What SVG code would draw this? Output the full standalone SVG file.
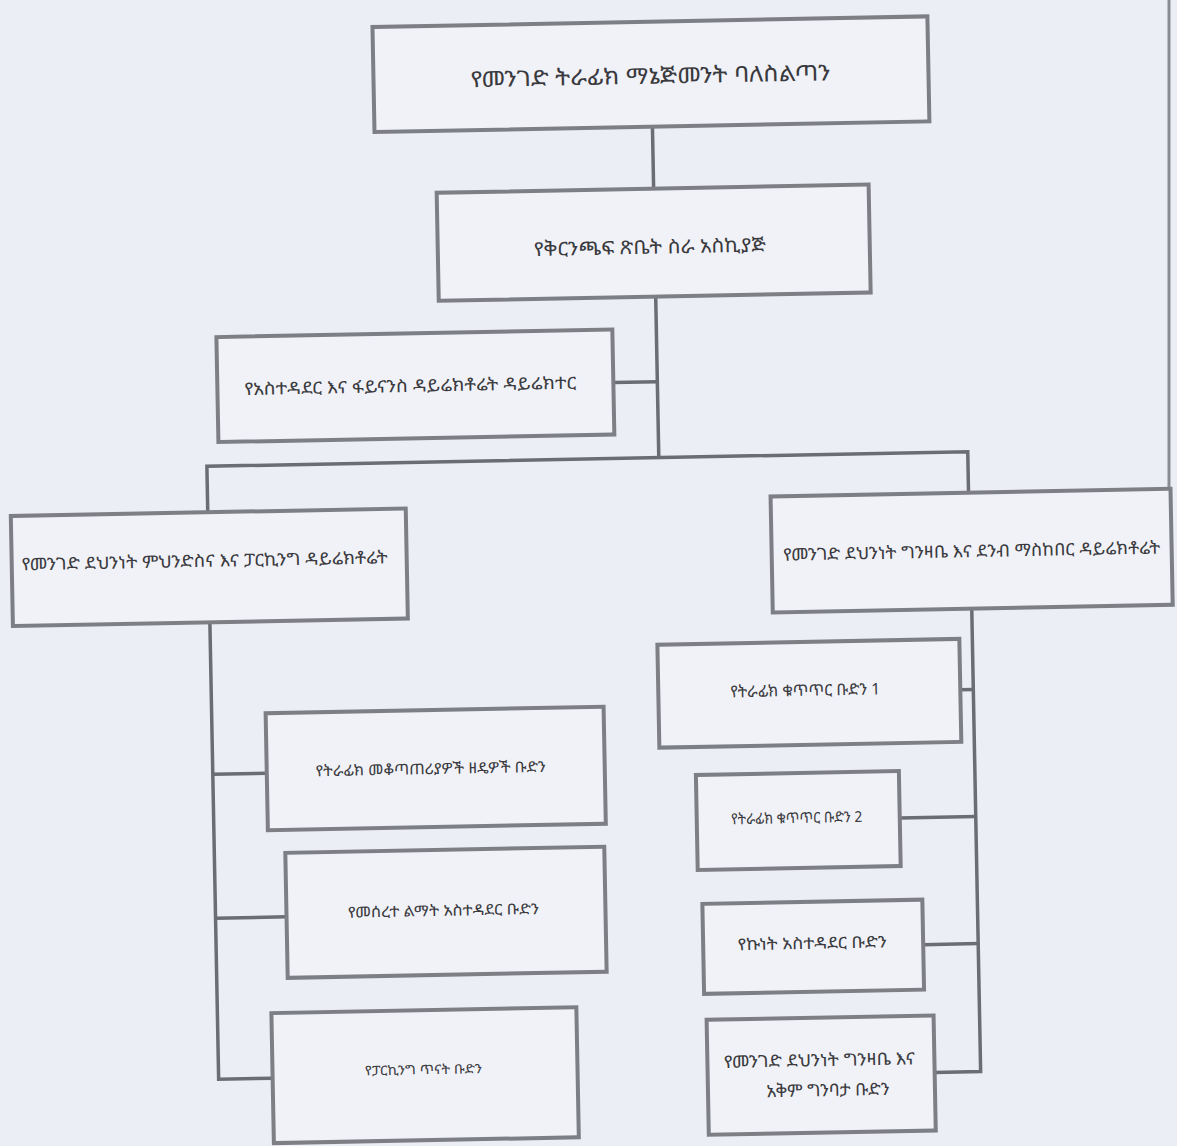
<svg xmlns="http://www.w3.org/2000/svg" width="1177" height="1146" viewBox="0 0 1177 1146">
<style>
.box{fill:#f1f2f8;stroke:#7d7f85;stroke-width:4}
.con{fill:none;stroke:#6b6d72;stroke-width:3.5}
.t{font-family:"Noto Sans Ethiopic","Abyssinica SIL","DejaVu Sans","Noto Sans",sans-serif;fill:#3a3a3e;text-anchor:middle;dominant-baseline:central}
</style>
<rect x="0" y="0" width="1177" height="1146" fill="#eceef5"/>
<line x1="1169" y1="0" x2="1169" y2="492" stroke="#8a8c92" stroke-width="3"/>
<g transform="rotate(-1.1 588 573)">
<g id="connectors">
<line class="con" x1="661" y1="128" x2="661" y2="190"/>
<line class="con" x1="661" y1="298" x2="661" y2="459"/>
<line class="con" x1="617" y1="383" x2="661" y2="383"/>
<polyline class="con" points="209,505 209,459 970,459 970,500"/>
<polyline class="con" points="209,615 209,1072 263,1072"/>
<line class="con" x1="209" y1="767" x2="263" y2="767"/>
<line class="con" x1="209" y1="911" x2="280" y2="911"/>
<polyline class="con" points="971,616 971,1079 925,1079"/>
<line class="con" x1="958" y1="697" x2="971" y2="697"/>
<line class="con" x1="895" y1="824" x2="971" y2="824"/>
<line class="con" x1="916" y1="951" x2="971" y2="951"/>
</g>
<g id="n1"><rect class="box" x="383" y="23" width="555" height="105"/>
<text class="t" x="660" y="76" font-size="22" textLength="360" lengthAdjust="spacingAndGlyphs">የመንገድ ትራፊክ ማኔጅመንት ባለስልጣን</text></g>
<g id="n2"><rect class="box" x="444" y="190" width="432" height="108"/>
<text class="t" x="656" y="248" font-size="19" textLength="232" lengthAdjust="spacingAndGlyphs">የቅርንጫፍ ጽቤት ስራ አስኪያጅ</text></g>
<g id="n3"><rect class="box" x="221" y="330" width="396" height="105"/>
<text class="t" x="414" y="382" font-size="17" textLength="332" lengthAdjust="spacingAndGlyphs">የአስተዳደር እና ፋይናንስ ዳይሬክቶሬት  ዳይሬክተር</text></g>
<g id="n4"><rect class="box" x="12" y="505" width="395" height="110"/>
<text class="t" x="205" y="553" font-size="17" textLength="366" lengthAdjust="spacingAndGlyphs">የመንገድ ደህንነት ምህንድስና እና ፓርኪንግ ዳይሬክቶሬት</text></g>
<g id="n5"><rect class="box" x="772" y="500" width="400" height="116"/>
<text class="t" x="972" y="558" font-size="17" textLength="377" lengthAdjust="spacingAndGlyphs">የመንገድ ደህንነት ግንዛቤ እና ደንብ ማስከበር ዳይሬክቶሬት</text></g>
<g id="n6"><rect class="box" x="656" y="646" width="302" height="103"/>
<text class="t" x="803" y="694" font-size="16" textLength="150" lengthAdjust="spacingAndGlyphs">የትራፊክ ቁጥጥር ቡድን 1</text></g>
<g id="n7"><rect class="box" x="263" y="707" width="338" height="117"/>
<text class="t" x="427" y="765" font-size="15" textLength="230" lengthAdjust="spacingAndGlyphs">የትራፊክ መቆጣጠሪያዎች ዘዴዎች ቡድን</text></g>
<g id="n8"><rect class="box" x="280" y="847" width="319" height="125"/>
<text class="t" x="437" y="907" font-size="15" textLength="191" lengthAdjust="spacingAndGlyphs">የመሰረተ ልማት አስተዳደር ቡድን</text></g>
<g id="n9"><rect class="box" x="263" y="1007" width="305" height="130"/>
<text class="t" x="414" y="1066" font-size="13" textLength="117" lengthAdjust="spacingAndGlyphs">የፓርኪንግ ጥናት ቡድን</text></g>
<g id="n10"><rect class="box" x="692" y="777" width="203" height="95"/>
<text class="t" x="792" y="821" font-size="15" textLength="131" lengthAdjust="spacingAndGlyphs">የትራፊክ ቁጥጥር ቡድን 2</text></g>
<g id="n11"><rect class="box" x="696" y="906" width="220" height="90"/>
<text class="t" x="805" y="947" font-size="16" textLength="149" lengthAdjust="spacingAndGlyphs">የኩነት አስተዳደር ቡድን</text></g>
<g id="n12"><rect class="box" x="698" y="1022" width="227" height="115"/>
<text class="t" x="810" y="1064" font-size="17" textLength="191" lengthAdjust="spacingAndGlyphs">የመንገድ ደህንነት ግንዛቤ እና</text>
<text class="t" x="818" y="1094" font-size="17" textLength="123" lengthAdjust="spacingAndGlyphs">አቅም ግንባታ ቡድን</text></g>
</g>
</svg>
